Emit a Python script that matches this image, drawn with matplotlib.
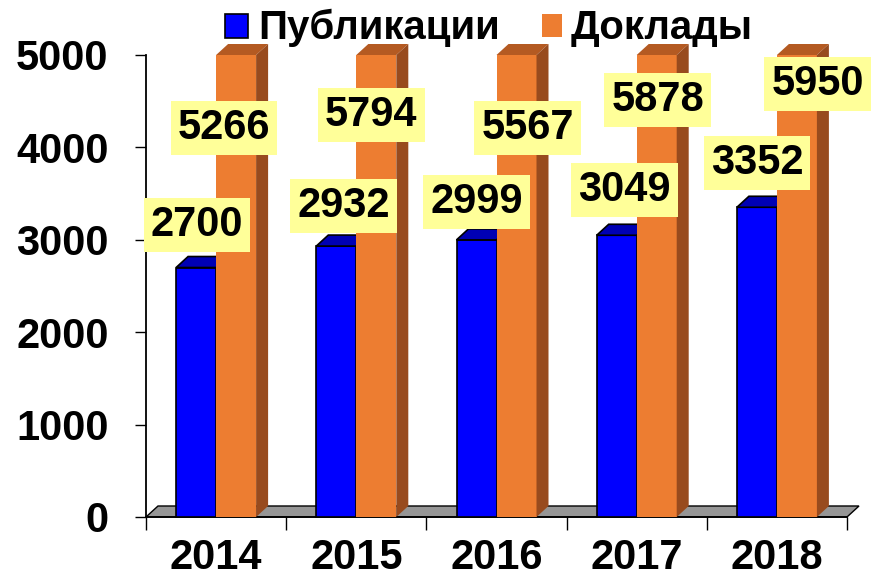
import numpy as np
import matplotlib
matplotlib.use("Agg")
import matplotlib.pyplot as plt
from matplotlib.patches import Polygon, Rectangle

plt.rcParams['font.family'] = ['Liberation Sans', 'DejaVu Sans']
plt.rcParams['font.weight'] = 'bold'

# данные
years = ['2014', '2015', '2016', '2017', '2018']
publications = [2700, 2932, 2999, 3049, 3352]
reports = [5266, 5794, 5567, 5878, 5950]
y_ticks = [0, 1000, 2000, 3000, 4000, 5000]
series_names = ['Публикации', 'Доклады']

# где стоят подписи (сдвиг от центра группы, высота в единицах оси)
pub_lab_dx = [-0.136, -0.093, -0.143, -0.086, -0.143]
pub_lab_y = [3160, 3366, 3409, 3539, 3831]
rep_lab_dx = [0.057, 0.107, 0.221, 0.150, 0.290]
rep_lab_y = [4210, 4351, 4210, 4513, 4686]

ymax = 5000
blue, blue_top = '#0000FF', '#0000B4'
orange, orange_top, orange_side = '#ED7D31', '#B45A22', '#984B1E'
floor_col = '#969696'

W, H = 871, 583
fig = plt.figure(figsize=(W / 100, H / 100), dpi=100)
ax = fig.add_axes([146 / W, 66 / H, 701 / W, 462 / H])
ax.set_xlim(0, 5)
ax.set_ylim(0, ymax)

# глубина "3D" (12 px вправо, 11 px вверх)
dx = 12 / 140.2
dy = 11 / 0.0924
w = 40 / 140.2


def box3d(x0, h, front, top, side=None, ec='none', lw=1.0, z=3):
    ax.add_patch(Rectangle((x0, 0), w, h, facecolor=front, edgecolor=ec, lw=lw, zorder=z, clip_on=False))
    ax.add_patch(Polygon([(x0, h), (x0 + w, h), (x0 + w + dx, h + dy), (x0 + dx, h + dy)],
                         closed=True, facecolor=top, edgecolor=ec, lw=lw, zorder=z, clip_on=False))
    if side is not None:
        ax.add_patch(Polygon([(x0 + w, 0), (x0 + w + dx, dy), (x0 + w + dx, h + dy), (x0 + w, h)],
                             closed=True, facecolor=side, edgecolor=ec, lw=lw, zorder=z, clip_on=False))


# пол
ax.add_patch(Polygon([(0, 0), (5, 0), (5 + dx, dy), (dx, dy)], closed=True,
                     facecolor=floor_col, edgecolor='black', lw=1.0, zorder=2, clip_on=False))

for i in range(len(years)):
    c = i + 0.5
    box3d(c - w, publications[i], blue, blue_top, ec='black', lw=1.2, z=3)
    box3d(c, min(reports[i], ymax), orange, orange_top, orange_side, z=4)

lab_kw = dict(ha='center', va='center', fontsize=30, fontweight='bold', zorder=10,
              bbox=dict(boxstyle='square,pad=0.17', facecolor='#FFFF99', edgecolor='none'))
for i in range(len(years)):
    c = i + 0.5
    ax.text(c + pub_lab_dx[i], pub_lab_y[i], str(publications[i]), clip_on=False, **lab_kw)
    ax.text(c + rep_lab_dx[i], rep_lab_y[i], str(reports[i]), clip_on=False, **lab_kw)

# оси
for s in ['top', 'right']:
    ax.spines[s].set_visible(False)
ax.spines['left'].set_linewidth(1.3)
ax.spines['bottom'].set_linewidth(1.3)
ax.set_yticks(y_ticks)
ax.tick_params(axis='y', length=8, width=1, pad=19, labelsize=30)
ax.set_xticks(np.arange(0, 6))
ax.set_xticklabels([])
ax.set_xticks(np.arange(len(years)) + 0.5, minor=True)
ax.set_xticklabels(years, minor=True)
ax.tick_params(axis='x', which='major', length=9, width=1)
ax.tick_params(axis='x', which='minor', length=0, pad=15, labelsize=30)
for t in ax.get_yticklabels() + ax.get_xticklabels(minor=True):
    t.set_fontweight('bold')

# легенда вручную
fig.patches.append(Rectangle((225 / W, 1 - 37.5 / H), 23 / W, 23.5 / H, transform=fig.transFigure,
                             facecolor=blue, edgecolor='black', lw=1.2))
fig.patches.append(Rectangle((542 / W, 1 - 37 / H), 20 / W, 23 / H, transform=fig.transFigure,
                             facecolor=orange, edgecolor='none'))
fig.text(258 / W, 1 - 39 / H, series_names[0], fontsize=29, fontweight='bold', va='baseline')
fig.text(571 / W, 1 - 39 / H, series_names[1], fontsize=29, fontweight='bold', va='baseline')

fig.savefig('out.png', dpi=100)
